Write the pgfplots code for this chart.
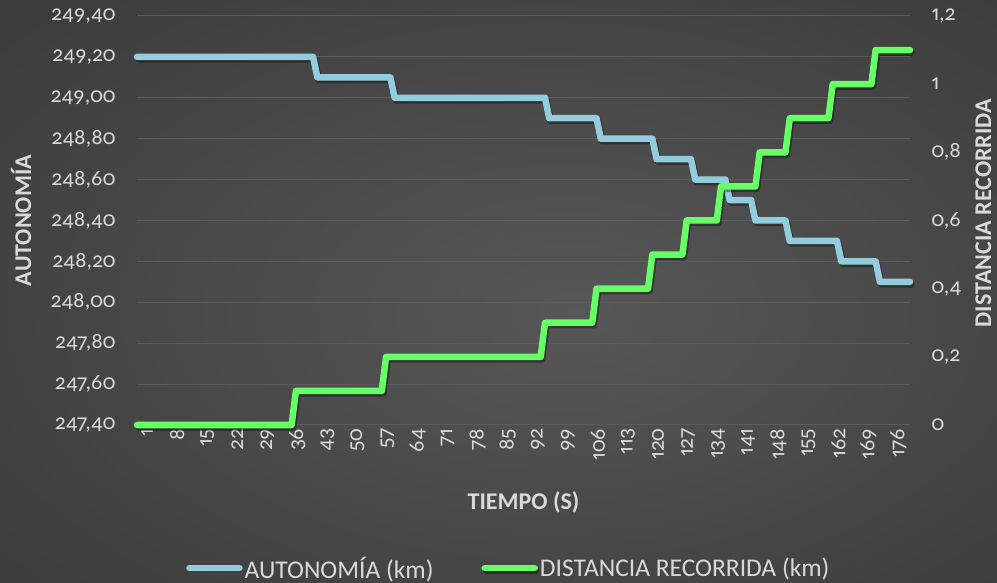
\documentclass[border=0pt]{standalone}
\usepackage{fontspec}
\setmainfont{Carlito}[Numbers={OldStyle,Proportional}]
\usepackage{pgfplots}
\pgfplotsset{compat=1.18}
\definecolor{txt}{HTML}{D9D9D9}
\definecolor{gridc}{HTML}{5C5C5C}
\definecolor{blueline}{HTML}{93CDDD}
\definecolor{greenline}{HTML}{66FF66}
\definecolor{bgA}{HTML}{575757}
\definecolor{bgB}{HTML}{444444}
\definecolor{bgC}{HTML}{2A2A2A}
\pgfdeclareradialshading{bgshade}{\pgfpoint{4bp}{-2bp}}{color(0bp)=(bgA); color(25bp)=(bgB); color(62bp)=(bgC)}
\newcommand{\tickfont}{\fontsize{22bp}{26bp}\selectfont}
\newcommand{\titlefont}{\fontsize{24bp}{28bp}\selectfont\bfseries}
\newcommand{\legfont}{\fontsize{25.5bp}{29bp}\selectfont}
\pgfplotsset{
  myline/.style={line width=6.5bp, line cap=round, line join=round,
    preaction={draw=black, opacity=0.35, line width=6.5bp,
      transform canvas={xshift=1.5bp, yshift=-2.5bp}}},
}
\begin{document}
\begin{tikzpicture}
\shade[shading=bgshade] (0,0) rectangle (997bp,583bp);
\begin{axis}[
  at={(137bp,158bp)}, anchor=south west,
  scale only axis, width=773bp, height=409bp,
  xmin=1, xmax=181, ymin=247.4, ymax=249.4,
  axis line style={draw=none},
  tick style={draw=none},
  xtick={1,8,...,176},
  ytick={247.4,247.6,247.8,248,248.2,248.4,248.6,248.8,249,249.2,249.4},
  ymajorgrids, grid style={gridc, line width=1bp},
  /pgf/number format/assume math mode=true,
  xticklabel style={rotate=90, anchor=east, font=\tickfont, text=txt, yshift=-10bp},
  yticklabel style={font=\tickfont, text=txt, /pgf/number format/.cd, fixed, fixed zerofill, precision=2, use comma, 1000 sep={}},
  yticklabel shift=18bp,
  ylabel={AUTONOMÍA},
  ylabel style={at={(axis description cs:-0.15,0.5)}, anchor=center, font=\titlefont, text=txt},
  xlabel={TIEMPO (S)},
  xlabel style={at={(axis description cs:0.5,-0.19)}, anchor=center, font=\titlefont, text=txt},
  clip=false,
]
\addplot[myline, blueline] coordinates {
(1,249.2)(42,249.2)(43,249.1)(60,249.1)(61,249.0)(96,249.0)(97,248.9)(108,248.9)
(109,248.8)(121,248.8)(122,248.7)(130,248.7)(131,248.6)(138,248.6)(139,248.5)(144,248.5)
(145,248.4)(152,248.4)(153,248.3)(164,248.3)(165,248.2)(173,248.2)(174,248.1)(181,248.1)};
\end{axis}
\begin{axis}[
  at={(137bp,158bp)}, anchor=south west,
  scale only axis, width=773bp, height=409bp,
  xmin=1, xmax=181, ymin=0, ymax=1.2,
  axis x line=none, axis y line*=right,
  axis line style={draw=none},
  tick style={draw=none},
  ytick={0,0.2,0.4,0.6,0.8,1,1.2},
  /pgf/number format/assume math mode=true,
  yticklabel style={font=\tickfont, text=txt, anchor=west, /pgf/number format/.cd, fixed, precision=1, use comma},
  yticklabel shift=18bp,
  ylabel={DISTANCIA RECORRIDA},
  ylabel style={at={(axis description cs:1.095,0.518)}, anchor=center, font=\titlefont, text=txt},
  clip=false,
  legend columns=2,
  legend style={draw=none, fill=none, font=\legfont, text=txt,
    at={(axis description cs:0.481,-0.35)}, anchor=center,
    /tikz/every even column/.append style={column sep=46bp},
    /tikz/every odd column/.append style={column sep=0bp},
    inner sep=0pt},
  legend image code/.code={\draw[#1, line width=6.5bp, line cap=round] (0bp,0bp) -- (50bp,0bp);},
]
\addlegendimage{blueline}
\addlegendentry{AUTONOMÍA (km)}
\addplot[myline, greenline] coordinates {
(1,0)(37,0)(38,0.1)(58,0.1)(59,0.2)(95,0.2)(96,0.3)(107,0.3)(108,0.4)(120,0.4)
(121,0.5)(128,0.5)(129,0.6)(136,0.6)(137,0.7)(145,0.7)(146,0.8)(152,0.8)
(153,0.9)(162,0.9)(163,1.0)(172,1.0)(173,1.1)(181,1.1)};
\addlegendentry{DISTANCIA RECORRIDA (km)}
\end{axis}
\pgfresetboundingbox
\useasboundingbox (0,0) rectangle (997bp,583bp);
\end{tikzpicture}
\end{document}
